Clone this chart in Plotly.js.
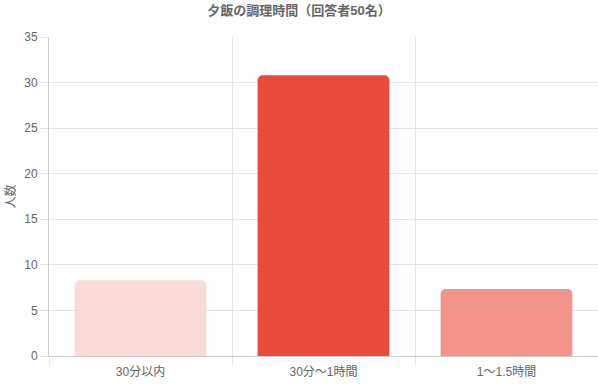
<!DOCTYPE html>
<html>
<head>
<meta charset="utf-8">
<script src="https://cdn.plot.ly/plotly-3.0.1.min.js"></script>
<style>html,body{margin:0;padding:0;background:#fff}#chart{width:598px;height:385px}</style>
</head>
<body>
<div id="chart"></div>
<script>
const categories = ["30分以内", "30分〜1時間", "1〜1.5時間"];
const counts = [8.3, 30.8, 7.35];
const barColors = ["#FADBD8", "#E74C3C", "#F1948A"];
const titleText = "夕飯の調理時間（回答者50名）";
const yTitle = "人数";

const FONT = "'Liberation Sans', 'Noto Sans CJK JP', sans-serif";
const grid = "#e5e5e5";

Plotly.newPlot("chart", [{
  type: "bar",
  x: categories,
  y: counts,
  marker: {color: barColors, cornerradius: 5},
  width: 0.72,
  hoverinfo: "skip"
}], {
  width: 598, height: 385,
  margin: {l: 49, r: 0, t: 37, b: 29},
  paper_bgcolor: "#fff", plot_bgcolor: "#fff",
  font: {family: FONT, size: 12, color: "#666"},
  title: {text: "<b>" + titleText + "</b>", x: 0.5, xanchor: "center", y: 0.985, yanchor: "top",
          font: {family: FONT, size: 13, color: "#666"}},
  showlegend: false,
  xaxis: {
    type: "category",
    tickson: "boundaries",
    ticks: "outside", ticklen: 8, tickcolor: grid,
    ticklabelstandoff: 5,
    showgrid: true, gridcolor: grid,
    showline: true, linecolor: "#cfcfcf",
    tickfont: {size: 12, color: "#666"},
    fixedrange: true
  },
  yaxis: {
    range: [0, 35],
    dtick: 5,
    ticks: "outside", ticklen: 8, tickcolor: grid,
    showgrid: true, gridcolor: grid,
    showline: true, linecolor: "#cfcfcf",
    zeroline: false,
    tickfont: {size: 12, color: "#666"},
    title: {text: yTitle, font: {size: 12, color: "#666"}, standoff: 6},
    fixedrange: true
  }
}, {displayModeBar: false, staticPlot: true});
</script>
</body>
</html>
